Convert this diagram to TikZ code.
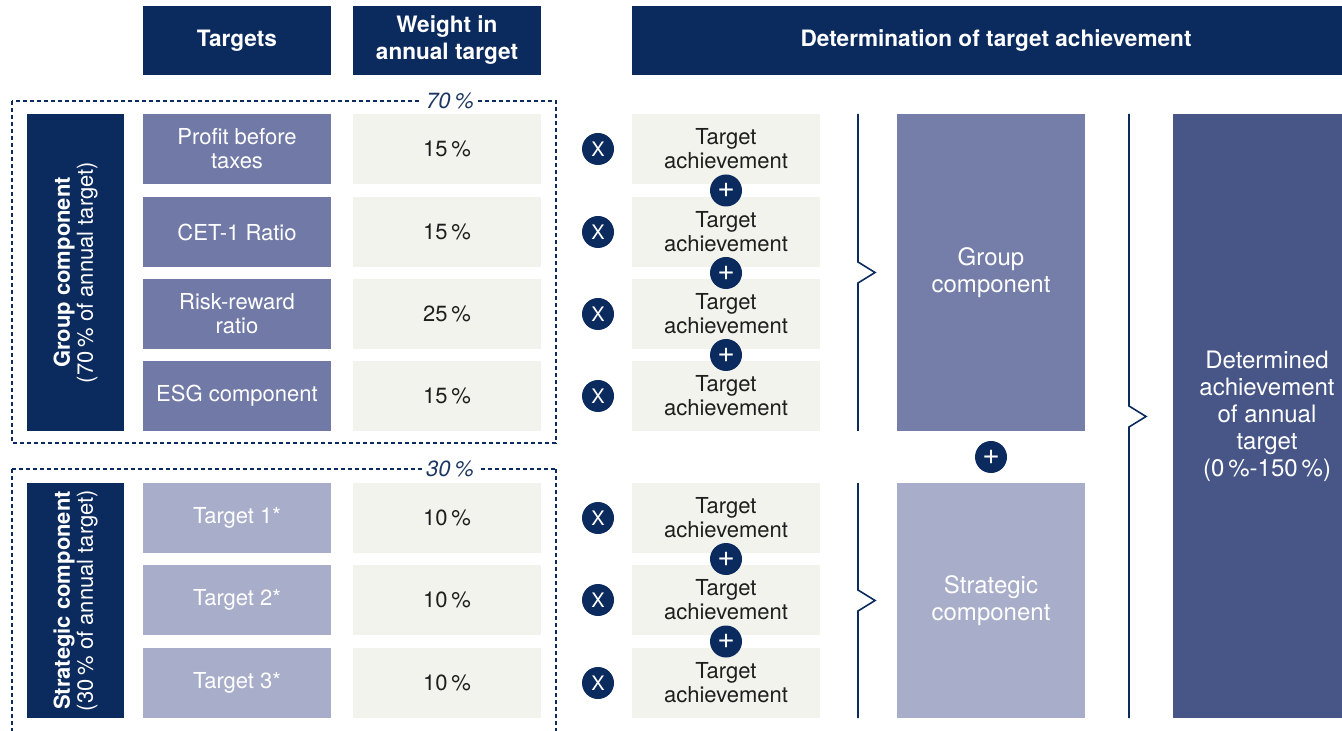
\documentclass[tikz,border=0pt]{standalone}
\usepackage{fontspec}
\setmainfont{TeX Gyre Heros}
\usetikzlibrary{calc}

\definecolor{navy}{HTML}{0B2A5E}
\definecolor{grpblue}{HTML}{7179A6}
\definecolor{stratblue}{HTML}{A8ADCA}
\definecolor{detblue}{HTML}{475687}
\definecolor{lightbg}{HTML}{F3F3ED}
\definecolor{textdark}{HTML}{1E1E1E}

\begin{document}
\begin{tikzpicture}[x=0.5pt,y=-0.5pt,
    box/.style={minimum width=94pt,minimum height=35pt,inner sep=0pt,align=center,
      font=\fontsize{11}{12}\selectfont},
    head/.style={box,fill=navy,text=white,minimum height=34.5pt,
      font=\bfseries\fontsize{11.3}{13.5}\selectfont},
    grp/.style={box,fill=grpblue,text=white},
    strat/.style={box,fill=stratblue,text=white},
    light/.style={box,fill=lightbg,text=textdark},
    bar/.style={fill=navy,text=white,rotate=90,align=center,inner sep=0pt,minimum height=48.5pt,
      font=\fontsize{11}{11.5}\selectfont},
    big/.style={minimum width=94pt,inner sep=0pt,align=center,text=white,
      font=\fontsize{12}{13.5}\selectfont},
    op/.style={circle,fill=navy,text=white,minimum size=16pt,inner sep=0pt},
    brace/.style={navy,line width=0.8pt},
    frame/.style={navy,line width=0.6pt,dash pattern=on 2pt off 1.5pt},
    share/.style={fill=white,text=navy!85!gray,inner sep=2pt,font=\itshape\fontsize{11}{12}\selectfont}]

    \useasboundingbox (0,0) rectangle (1342,731);

    % headers
    \node[head] (hTarg) at (237,40.5) {Targets};
    \node[head] (hWeight) at (447,40.5) {Weight in\\annual target};
    \node[head,minimum width=364pt] (hDet) at (996,40.5) {Determination of target achievement};

    % group component
    \draw[frame] (12,101) rectangle (556,443);
    \node[share] (pGrp) at (450,101) {70\,\%};
    \node[bar,minimum width=158.5pt] (grpBar) at (75.5,272.5)
      {\textbf{Group component}\\(70\,\% of annual target)};

    \foreach \y/\txt/\w [count=\i] in {149/{Profit before\\taxes}/15, 232/{CET-1 Ratio}/15,
        314/{Risk-reward\\ratio}/25, 396/{ESG component}/15}
    {\node[grp] (g\i) at (237,\y) {\txt};
    \node[light] (gw\i) at (447,\y) {\w\,\%};
    \node[op,font=\fontsize{10}{10}\selectfont] (gx\i) at (598,\y) {X};
    \node[light] (ga\i) at (726,\y) {Target\\achievement};}

    \foreach \i/\j in {1/2,2/3,3/4}
    \node[op,font=\fontsize{15}{15}\selectfont] (gp\i) at ($(ga\i.south)!0.5!(ga\j.north)$) {+};

    % strategic component
    \draw[frame] (12,469) -- (12,740) (556,469) -- (556,740) (12,469) -- (556,469);
    \node[share] (pStrat) at (450,469) {30\,\%};
    \node[bar,minimum width=117.5pt] (stratBar) at (75.5,600.5)
      {\textbf{Strategic component}\\(30\,\% of annual target)};

    \foreach \y/\n [count=\i] in {518/1, 600/2, 683/3}
    {\node[strat] (s\i) at (237,\y) {Target \n*};
    \node[light] (sw\i) at (447,\y) {10\,\%};
    \node[op,font=\fontsize{10}{10}\selectfont] (sx\i) at (598,\y) {X};
    \node[light] (sa\i) at (726,\y) {Target\\achievement};}

    \foreach \i/\j in {1/2,2/3}
    \node[op,font=\fontsize{15}{15}\selectfont] (sp\i) at ($(sa\i.south)!0.5!(sa\j.north)$) {+};

    % determination
    \draw[brace] (858,114) -- (858,262) -- (875,272.5) -- (858,283) -- (858,431);
    \draw[brace] (858,483) -- (858,590) -- (875,600.5) -- (858,611) -- (858,718);
    \draw[brace] (1129,114) -- (1129,406) -- (1146,416.5) -- (1129,427) -- (1129,718);

    \node[big,fill=grpblue!97!white,minimum height=158.5pt] (grpRes) at (991,272.5) {Group\\component};
    \node[big,fill=stratblue,minimum height=117.5pt] (stratRes) at (991,600.5) {Strategic\\component};
    \node[op,font=\fontsize{15}{15}\selectfont] (resPlus) at ($(grpRes.south)!0.5!(stratRes.north)$) {+};
    \node[big,fill=detblue,minimum height=302pt] (detRes) at (1267,416)
      {Determined\\achievement\\of annual\\target\\(0\,\%-150\,\%)};

\end{tikzpicture}
\end{document}
